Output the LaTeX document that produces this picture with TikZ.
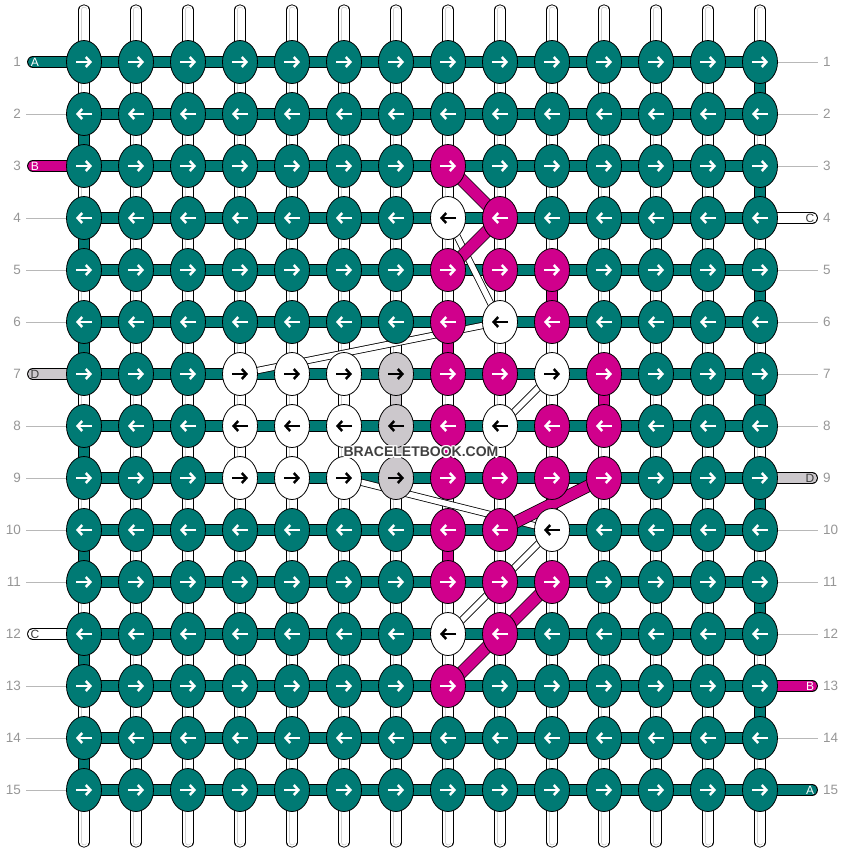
\documentclass[tikz,border=0pt]{standalone}
\usepackage{fontspec}
\setmainfont{Liberation Sans}
\usetikzlibrary{shapes.geometric,arrows.meta}
\pgfdeclarelayer{bg}
\pgfsetlayers{bg,main}
\definecolor{tealc}{RGB}{0,122,116}
\definecolor{magc}{RGB}{208,0,140}
\definecolor{grayc}{RGB}{204,200,204}
\definecolor{numc}{RGB}{150,150,150}
\definecolor{wmc}{RGB}{64,64,64}
\definecolor{labc}{RGB}{60,60,60}
\newcommand\setm[2]{\expandafter\def\csname kc@#1@#2\endcsname{magc}\expandafter\def\csname ka@#1@#2\endcsname{white}}
\newcommand\setw[2]{\expandafter\def\csname kc@#1@#2\endcsname{white}\expandafter\def\csname ka@#1@#2\endcsname{black}}
\newcommand\setg[2]{\expandafter\def\csname kc@#1@#2\endcsname{grayc}\expandafter\def\csname ka@#1@#2\endcsname{black}}
% row 3
\setm{8}{3}
% row 4
\setw{8}{4}\setm{9}{4}
% row 5
\setm{8}{5}\setm{9}{5}\setm{10}{5}
% row 6
\setm{8}{6}\setw{9}{6}\setm{10}{6}
% row 7
\setw{4}{7}\setw{5}{7}\setw{6}{7}\setg{7}{7}\setm{8}{7}\setm{9}{7}\setw{10}{7}\setm{11}{7}
% row 8
\setw{4}{8}\setw{5}{8}\setw{6}{8}\setg{7}{8}\setm{8}{8}\setw{9}{8}\setm{10}{8}\setm{11}{8}
% row 9
\setw{4}{9}\setw{5}{9}\setw{6}{9}\setg{7}{9}\setm{8}{9}\setm{9}{9}\setm{10}{9}\setm{11}{9}
% row 10
\setm{8}{10}\setm{9}{10}\setw{10}{10}
% row 11
\setm{8}{11}\setm{9}{11}\setm{10}{11}
% row 12
\setw{8}{12}\setm{9}{12}
% row 13
\setm{8}{13}
\begin{document}
\begin{tikzpicture}[x=1pt,y=-1pt,
 knot/.style={ellipse,draw=black,line width=0.8pt,minimum width=35pt,minimum height=43pt,inner sep=0pt},
 arr/.style={line width=2.5pt,-{Straight Barb[length=4.5pt,width=10pt]}},
 tube/.style={line width=0.9pt,draw=black,double=white,double distance=9.5pt,line cap=round},
 tubein/.style={line width=0.8pt,draw=black!18,double=white,double distance=5pt,line cap=round},
 bar/.style={line width=0.9pt,draw=black,double=#1,double distance=10pt},
 stub/.style={line width=0.9pt,draw=black,double=#1,double distance=10pt,line cap=round},
 thinstr/.style={line width=0.8pt,draw=black,double=white,double distance=5.5pt},
 thickstr/.style={line width=0.8pt,draw=black,double=magc,double distance=11pt},
 guide/.style={draw=black!28,line width=0.9pt},
 num/.style={text=numc,font=\fontsize{13.5}{15}\selectfont,inner sep=0pt},
 lab/.style={font=\fontsize{12}{13}\selectfont,inner sep=0pt},
 wm/.style={font=\fontsize{14}{16}\selectfont\bfseries,inner sep=0pt},
]
\useasboundingbox (0,0) rectangle (844,852);
% knots
\foreach \ky in {1,...,15}{
 \foreach \kx in {1,...,14}{
  \def\fcol{tealc}\def\acol{white}%
  \ifcsname kc@\kx @\ky\endcsname
    \edef\fcol{\csname kc@\kx @\ky\endcsname}%
    \edef\acol{\csname ka@\kx @\ky\endcsname}%
  \fi
  \node[knot,fill=\fcol] (k\kx-\ky) at ({84+52*(\kx-1)},{62+52*(\ky-1)}) {};
  \ifodd\ky
    \draw[arr,draw=\acol] ([xshift=-8pt]k\kx-\ky.center) -- ([xshift=8pt]k\kx-\ky.center);
  \else
    \draw[arr,draw=\acol] ([xshift=8pt]k\kx-\ky.center) -- ([xshift=-8pt]k\kx-\ky.center);
  \fi
 }}
% end coordinates
\foreach \kx in {1,...,14}{
  \coordinate (top\kx) at ({84+52*(\kx-1)},10);
  \coordinate (bot\kx) at ({84+52*(\kx-1)},842);
}
\foreach \ky in {1,...,15}{
  \coordinate (ls\ky) at (33,{62+52*(\ky-1)});
  \coordinate (rs\ky) at (812,{62+52*(\ky-1)});
  \coordinate (lg\ky) at (26,{62+52*(\ky-1)});
  \coordinate (rg\ky) at (818,{62+52*(\ky-1)});
}
\begin{pgfonlayer}{bg}
\fill[white] (0,0) rectangle (844,852);
% vertical base strings
\foreach \kx in {1,...,14}{
  \draw[tube] (top\kx) -- (bot\kx);
  \draw[tubein] (top\kx) -- (bot\kx);
}
% horizontal knotting rows
\foreach \ky in {1,...,15}{
  \draw[bar=tealc] (k1-\ky.center) -- (k14-\ky.center);
}
% row turns
\foreach \ky [evaluate=\ky as \kn using int(\ky+1)] in {1,3,...,13}
  \draw[bar=tealc] (k14-\ky.center) -- (k14-\kn.center);
\foreach \ky [evaluate=\ky as \kn using int(\ky+1)] in {2,4,...,14}
  \draw[bar=tealc] (k1-\ky.center) -- (k1-\kn.center);
% coloured vertical runs
\draw[bar=magc] (k10-5.center) -- (k10-6.center);
\draw[bar=magc] (k8-6.center) -- (k8-7.center);
\draw[bar=magc] (k11-7.center) -- (k11-8.center);
\draw[bar=magc] (k8-8.center) -- (k8-9.center);
\draw[bar=magc] (k8-10.center) -- (k8-11.center);
\draw[bar=grayc] (k7-7.center) -- (k7-8.center);
\draw[bar=grayc] (k7-8.center) -- (k7-9.center);
% white diagonals
\draw[thinstr] (k8-4.center) -- (k9-6.center);
\draw[thinstr] (k9-6.center) -- (k4-7.center);
\draw[thinstr] (k10-7.center) -- (k9-8.center);
\draw[thinstr] (k6-9.center) -- (k10-10.center);
\draw[thinstr] (k10-10.center) -- (k8-12.center);
% magenta diagonals
\draw[thickstr] (k8-3.center) -- (k9-4.center);
\draw[thickstr] (k9-4.center) -- (k8-5.center);
\draw[thickstr] (k11-9.center) -- (k9-10.center);
\draw[thickstr] (k10-11.center) -- (k9-12.center);
\draw[thickstr] (k9-12.center) -- (k8-13.center);
% left stubs
\draw[stub=tealc] (ls1) -- (k1-1.center);
\draw[stub=magc] (ls3) -- (k1-3.center);
\draw[stub=grayc] (ls7) -- (k1-7.center);
\draw[stub=white] (ls12) -- (k1-12.center);
% right stubs
\draw[stub=white] (rs4) -- (k14-4.center);
\draw[stub=grayc] (rs9) -- (k14-9.center);
\draw[stub=magc] (rs13) -- (k14-13.center);
\draw[stub=tealc] (rs15) -- (k14-15.center);
% guide lines
\foreach \ky in {2,4,5,6,8,9,10,11,13,14,15}
  \draw[guide] (lg\ky) -- (k1-\ky.west);
\foreach \ky in {1,2,3,5,6,7,8,10,11,12,14}
  \draw[guide] (k14-\ky.east) -- (rg\ky);
\end{pgfonlayer}
% row numbers
\foreach \ky in {1,...,15}{
  \node[num,anchor=east] (nl\ky) at (21,{62+52*(\ky-1)}) {\ky};
  \node[num,anchor=west] (nr\ky) at (823,{62+52*(\ky-1)}) {\ky};
}
% stub labels
\node[lab,text=white] (la) at (35,62) {A};
\node[lab,text=white] (lb) at (35,166) {B};
\node[lab,text=labc] (ld) at (35,374) {D};
\node[lab,text=labc] (lc) at (35,634) {C};
\node[lab,text=labc] (rc) at (810,218) {C};
\node[lab,text=labc] (rd) at (810,478) {D};
\node[lab,text=white] (rb) at (810,686) {B};
\node[lab,text=white] (ra) at (810,790) {A};
% watermark
\foreach \dx/\dy [count=\n] in {-1.3/0,1.3/0,0/-1.3,0/1.3,-1/-1,1/1,-1/1,1/-1}
  \node[wm,text=white] (wmh\n) at ({421+\dx},{452+\dy}) {BRACELETBOOK.COM};
\node[wm,text=wmc] (wm) at (421,452) {BRACELETBOOK.COM};
\end{tikzpicture}
\end{document}
